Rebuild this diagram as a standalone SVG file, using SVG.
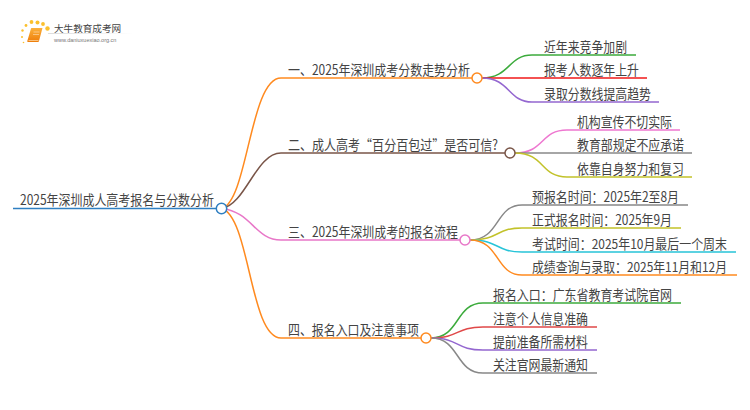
<svg xmlns="http://www.w3.org/2000/svg" width="750" height="410" viewBox="0 0 750 410">
<defs><linearGradient id="bk" x1="0" y1="0" x2="0" y2="1"><stop offset="0" stop-color="#fbb03b"/><stop offset="1" stop-color="#ee7d0a"/></linearGradient>
<linearGradient id="fade" x1="0" y1="0" x2="1" y2="0"><stop offset="0" stop-color="#ccc"/><stop offset="1" stop-color="#fff"/></linearGradient></defs>
<style>
text{font-family:"Noto Sans CJK SC","Liberation Sans",sans-serif;font-size:14px;fill:#444}
text.s{font-size:13.300px}
.c{fill:none;stroke-width:1.5}
.n{fill:#fff;stroke-width:1.5}
</style>
<rect width="750" height="410" fill="#fff"/>
<g id="logo">
<g fill="#fbc02d"><circle cx="47.500" cy="28.500" r="2.200"/><circle cx="37.500" cy="22.500" r="2"/><circle cx="31.500" cy="22" r="1.900"/><circle cx="43" cy="24" r="1.900"/><circle cx="26" cy="25.500" r="1.400"/><circle cx="22.500" cy="30.500" r="1.200"/><circle cx="22" cy="37" r="1"/><circle cx="23.500" cy="42.500" r="0.800"/></g>
<path d="M31 28.500q0-.5 .5-.5h11l-3.500 13q-.2 1-1 1h-10q-1 0-.7-1z" fill="url(#bk)"/><path d="M28.500 40.500h10" stroke="#fde0b0" stroke-width="0.700"/><path d="M33.500 32h6M33 34.500h6" stroke="#fff" stroke-width="0.600" opacity="0.700"/>
<text x="54" y="31.500" style="font-size:9.600px">大牛教育成考网</text>
<rect x="48" y="33" width="85" height="0.700" fill="url(#fade)"/>
<text x="54" y="41.500" style="font-size:5.500px;fill:#777;font-family:'Liberation Sans',sans-serif">www.daniuxuexiao.org.cn</text>
</g>
<g id="connectors">
<path class="c" stroke="#2f7fc1" d="M13 208.500H216" stroke-width="2"/>
<path class="c" stroke="#ff8a1f" d="M222 208.500C248 200 250 78 281 78H472"/>
<path class="c" stroke="#795548" d="M222 208.500C246 204 256 153 281 153H505"/>
<path class="c" stroke="#e877c8" d="M222 208.500C252 212 255 240 281 240H460"/>
<path class="c" stroke="#ff8a1f" d="M222 208.500C250 218 250 338 281 338H421"/>
<path class="c" stroke="#3cab3c" d="M482 78C510 78 508 55 532 55H636"/>
<path class="c" stroke="#f01818" d="M482 78H647"/>
<path class="c" stroke="#9467d0" d="M482 78C510 78 508 102 532 102H659"/>
<path class="c" stroke="#ee77d0" d="M515 153C545 153 540 130 567 130H680"/>
<path class="c" stroke="#888" d="M515 153H692"/>
<path class="c" stroke="#c2c22a" d="M515 153C545 153 540 177 567 177H692"/>
<path class="c" stroke="#888" d="M470 240C500 240 495 205 522 205H688"/>
<path class="c" stroke="#c2c22a" d="M470 240C500 240 495 228 522 228H681"/>
<path class="c" stroke="#27c4d8" d="M470 240C500 240 495 252 522 252H736"/>
<path class="c" stroke="#ff8a1f" d="M470 240C500 240 495 275 522 275H737"/>
<path class="c" stroke="#3cab3c" d="M431 338C460 338 455 303 483 303H681"/>
<path class="c" stroke="#e04848" d="M431 338C460 338 455 327 483 327H597" stroke-width="2"/>
<path class="c" stroke="#9467d0" d="M431 338C460 338 455 350 483 350H597"/>
<path class="c" stroke="#888" d="M431 338C460 338 455 373 483 373H597"/>
</g>
<g id="root"><circle class="n" stroke="#2f7fc1" cx="221.500" cy="208.500" r="5.200"/><text x="20" y="205" textLength="194" lengthAdjust="spacingAndGlyphs">2025年深圳成人高考报名与分数分析</text></g>
<g id="b1"><circle class="n" stroke="#ff8a1f" cx="477" cy="78" r="5"/><text x="288" y="75" textLength="182" lengthAdjust="spacingAndGlyphs">一、2025年深圳成考分数走势分析</text></g>
<g id="b2"><circle class="n" stroke="#795548" cx="510" cy="153" r="5"/><text x="288" y="150" textLength="210" lengthAdjust="spacingAndGlyphs">二、成人高考“百分百包过”是否可信?</text></g>
<g id="b3"><circle class="n" stroke="#e877c8" cx="465" cy="240" r="5"/><text x="288" y="237" textLength="170" lengthAdjust="spacingAndGlyphs">三、2025年深圳成考的报名流程</text></g>
<g id="b4"><circle class="n" stroke="#ff8a1f" cx="426" cy="338" r="5"/><text x="288" y="335" textLength="131" lengthAdjust="spacingAndGlyphs">四、报名入口及注意事项</text></g>
<g id="n11"><text x="544" y="52" textLength="83" lengthAdjust="spacingAndGlyphs">近年来竞争加剧</text></g>
<g id="n12"><text x="544" y="75" textLength="95" lengthAdjust="spacingAndGlyphs">报考人数逐年上升</text></g>
<g id="n13"><text x="544" y="99" textLength="107" lengthAdjust="spacingAndGlyphs">录取分数线提高趋势</text></g>
<g id="n21"><text x="577" y="127" textLength="95" lengthAdjust="spacingAndGlyphs">机构宣传不切实际</text></g>
<g id="n22"><text x="577" y="150" textLength="107" lengthAdjust="spacingAndGlyphs">教育部规定不应承诺</text></g>
<g id="n23"><text x="577" y="174" textLength="107" lengthAdjust="spacingAndGlyphs">依靠自身努力和复习</text></g>
<g id="n31"><text x="532" y="202" textLength="147" lengthAdjust="spacingAndGlyphs">预报名时间：2025年2至8月</text></g>
<g id="n32"><text x="532" y="225" textLength="140" lengthAdjust="spacingAndGlyphs">正式报名时间：2025年9月</text></g>
<g id="n33"><text class="s" x="532" y="249" textLength="195" lengthAdjust="spacingAndGlyphs">考试时间：2025年10月最后一个周末</text></g>
<g id="n34"><text class="s" x="532" y="272" textLength="195" lengthAdjust="spacingAndGlyphs">成绩查询与录取：2025年11月和12月</text></g>
<g id="n41"><text x="493" y="300" textLength="179" lengthAdjust="spacingAndGlyphs">报名入口：广东省教育考试院官网</text></g>
<g id="n42"><text x="493" y="324" textLength="95" lengthAdjust="spacingAndGlyphs">注意个人信息准确</text></g>
<g id="n43"><text x="493" y="347" textLength="95" lengthAdjust="spacingAndGlyphs">提前准备所需材料</text></g>
<g id="n44"><text x="493" y="370" textLength="95" lengthAdjust="spacingAndGlyphs">关注官网最新通知</text></g>
</svg>
